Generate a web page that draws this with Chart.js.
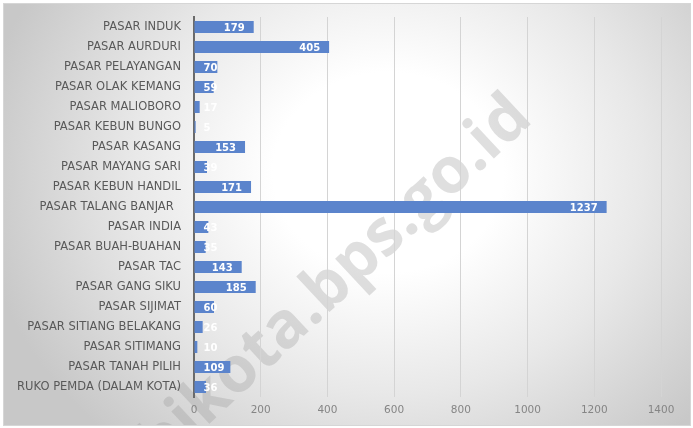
<!DOCTYPE html>
<html>
<head>
<meta charset="utf-8">
<script src="https://cdn.jsdelivr.net/npm/chart.js@4"></script>
<style>
  html, body { margin: 0; padding: 0; background: #fff; }
  #box {
    position: absolute; left: 3px; top: 3px; width: 686px; height: 421px;
    border: 1px solid #d6d6d6;
    background: radial-gradient(ellipse 60% 85% at 56% 40%, #ffffff 28%, #e8e8e8 62%, #c8c8c8 100%);
    overflow: hidden;
  }
  #wm {
    position: absolute; left: 23px; top: 497px; line-height: 1;
    font: bold 64px "Open Sans", sans-serif; color: rgba(150,150,150,0.3);
    transform: rotate(-43deg); transform-origin: 0 0; white-space: nowrap;
  }
  #c { position: absolute; left: 0; top: 0; }
</style>
</head>
<body>
<div id="box"><div id="wm">jambikota.bps.go.id</div></div>
<canvas id="c" width="693" height="428"></canvas>
<script>
const marketLabels = [
  "PASAR INDUK", "PASAR AURDURI", "PASAR PELAYANGAN", "PASAR OLAK KEMANG",
  "PASAR MALIOBORO", "PASAR KEBUN BUNGO", "PASAR KASANG", "PASAR MAYANG SARI",
  "PASAR KEBUN HANDIL", "PASAR TALANG BANJAR  ", "PASAR INDIA", "PASAR BUAH-BUAHAN",
  "PASAR TAC", "PASAR GANG SIKU", "PASAR SIJIMAT", "PASAR SITIANG BELAKANG",
  "PASAR SITIMANG", "PASAR TANAH PILIH", "RUKO PEMDA (DALAM KOTA)"
];
const marketValues = [179, 405, 70, 59, 17, 5, 153, 39, 171, 1237, 43, 35, 143, 185, 60, 26, 10, 109, 36];
const xTicks = [0, 200, 400, 600, 800, 1000, 1200, 1400];

// value labels at the inner end of each bar, white bold
const barLabels = {
  id: "barLabels",
  afterDatasetsDraw(chart) {
    const ctx = chart.ctx;
    const meta = chart.getDatasetMeta(0);
    ctx.save();
    ctx.font = "bold 10px 'DejaVu Sans', sans-serif";
    ctx.fillStyle = "#ffffff";
    ctx.textBaseline = "middle";
    meta.data.forEach((bar, i) => {
      const txt = String(marketValues[i]);
      const w = ctx.measureText(txt).width;
      let x = bar.x - 9 - w;
      if (x < bar.base + 9) x = bar.base + 9;
      ctx.fillText(txt, x, bar.y + 1);
    });
    ctx.restore();
  }
};

new Chart(document.getElementById("c").getContext("2d"), {
  type: "bar",
  data: {
    labels: marketLabels,
    datasets: [{
      data: marketValues,
      backgroundColor: "#5b84cc",
      barPercentage: 0.6,
      categoryPercentage: 1
    }]
  },
  options: {
    indexAxis: "y",
    responsive: false,
    animation: false,
    layout: { padding: { top: 17, right: 32, left: 0, bottom: 0 } },
    plugins: { legend: { display: false }, tooltip: { enabled: false } },
    scales: {
      x: {
        min: 0, max: 1400,
        afterBuildTicks: s => { s.ticks = xTicks.map(v => ({ value: v })); },
        afterFit: s => { s.height = 31; },
        grid: { color: "#d4d4d4", drawTicks: false, lineWidth: 1 },
        border: { display: false },
        ticks: {
          color: "#858585", padding: 7,
          font: { size: 10.5, family: "'DejaVu Sans', sans-serif" },
          callback: v => String(v)
        }
      },
      y: {
        afterFit: s => { s.width = 194; },
        grid: { display: false },
        border: { display: true, color: "#6a6a6a", width: 2 },
        ticks: { color: "#595959", padding: 5, font: { size: 11.5, family: "'DejaVu Sans', sans-serif" } }
      }
    }
  },
  plugins: [barLabels]
});
</script>
</body>
</html>
